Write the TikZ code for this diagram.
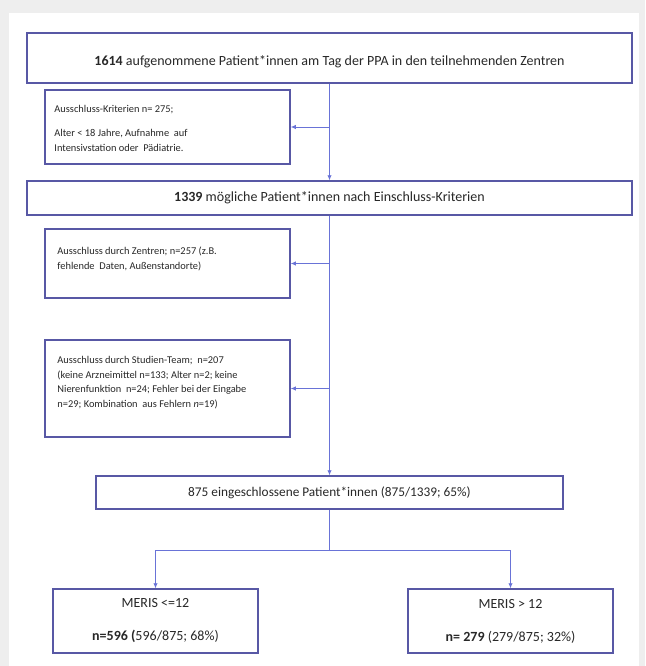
\documentclass[tikz,border=0pt]{standalone}
\usepackage{fontspec}
\setmainfont{Carlito}
\usetikzlibrary{arrows.meta}
\definecolor{boxc}{RGB}{88,88,165}
\definecolor{linec}{RGB}{105,115,215}
\definecolor{txt}{RGB}{40,40,40}
\definecolor{bggray}{RGB}{238,238,238}
\tikzset{
  box/.style={draw=boxc, line width=1.5pt, inner sep=0pt, text=txt, align=center,
              font=\fontsize{13.3}{16}\selectfont},
  conn/.style={draw=linec, line width=0.9pt, -{Latex[length=5pt,width=4.5pt]}},
  plainline/.style={draw=linec, line width=0.9pt},
  lbl/.style={text=txt, align=left, anchor=north west, inner sep=0pt},
  big/.style={font=\fontsize{14}{17}\selectfont},
}
\begin{document}
\begin{tikzpicture}[x=1pt,y=-1pt]
\useasboundingbox (0,0) rectangle (645,666);
\fill[bggray] (0,0) rectangle (645,666);
\fill[white] (9,13) rectangle (639,666);

% main boxes
\node[box, minimum width=605pt, minimum height=50pt] (A) at (329.5,58) {};
\node[text=txt, big, inner sep=0pt] (At) at ([yshift=-4pt]A.center)
  {\textbf{1614} aufgenommene Patient*innen am Tag der PPA in den teilnehmenden Zentren};
\node[box, big, minimum width=605pt, minimum height=34pt] (C) at (329.5,198)
  {\textbf{1339} mögliche Patient*innen nach Einschluss-Kriterien};
\node[box, minimum width=467pt, minimum height=33pt] (F) at (329.5,492.5)
  {875 eingeschlossene Patient*innen (875/1339; 65\%)};
\node[box, minimum width=205pt, minimum height=64pt, font=\fontsize{14}{33}\selectfont] (G) at (155.5,621)
  {MERIS <=12\\\textbf{n=596 (}596/875; 68\%)};
\node[box, minimum width=205pt, minimum height=64pt, font=\fontsize{14}{33}\selectfont] (H) at (510.5,621)
  {MERIS > 12\\\textbf{n= 279} (279/875; 32\%)};

% exclusion boxes
\node[box, minimum width=245pt, minimum height=74pt] (B) at (167.5,127) {};
\node[box, minimum width=245pt, minimum height=69pt] (D) at (167.5,263.5) {};
\node[box, minimum width=245pt, minimum height=97pt] (E) at (167.5,388.5) {};

\node[lbl, font=\fontsize{10.4}{14.5}\selectfont] (Bt) at ([shift={(10,16)}]B.north west)
  {Ausschluss-Kriterien n= 275;\\[9.5pt]Alter < 18 Jahre, Aufnahme\ \ auf\\Intensivstation oder\ \ Pädiatrie.};
\node[lbl, font=\fontsize{10.4}{15.5}\selectfont] (Dt) at ([shift={(13,18)}]D.north west)
  {Ausschluss durch Zentren; n=257 (z.B.\\fehlende\ \ Daten, Außenstandorte)};
\node[lbl, font=\fontsize{10.4}{14.5}\selectfont] (Et) at ([shift={(13,17)}]E.north west)
  {Ausschluss durch Studien-Team;\ \ n=207\\(keine Arzneimittel n=133; Alter n=2; keine\\Nierenfunktion\ \ n=24; Fehler bei der Eingabe\\n=29; Kombination\ \ aus Fehlern \textit{n}=19)};

% connectors
\draw[conn] (A.south) -- (C.north);
\draw[conn] (A.south |- B.east) -- (B.east);
\draw[conn] (C.south) -- (F.north);
\draw[conn] (C.south |- D.east) -- (D.east);
\draw[conn] (C.south |- E.east) -- (E.east);
\path (F.south) ++(0,41) coordinate (split);
\draw[plainline] (F.south) -- (split);
\draw[conn] (split) -| (G.north);
\draw[conn] (split) -| (H.north);
\end{tikzpicture}
\end{document}
